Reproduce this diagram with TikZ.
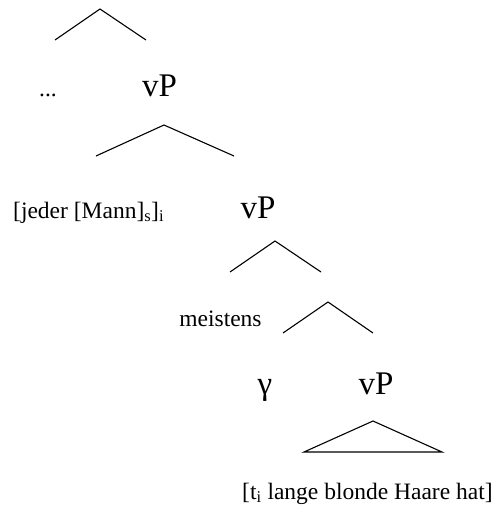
\documentclass[tikz,border=0pt]{standalone}
\usepackage{fontspec}
\setmainfont{Liberation Serif}
\begin{document}
\begin{tikzpicture}[x=1pt,y=-1pt,
  small/.style={inner sep=0pt,anchor=base,font=\fontsize{23.5}{28}\selectfont},
  big/.style={inner sep=0pt,anchor=base,font=\fontsize{33}{38}\selectfont},
  branch/.style={line width=1.1pt,line join=miter}]
\useasboundingbox (0,0) rectangle (494,508);
% texts
\node[small] (dots) at (48,97) {...};
\node[big] (vp1) at (159.5,97) {vP};
\node[small,anchor=base west] (jeder) at (13,218) {[jeder [Mann]\textsubscript{s}]\textsubscript{i}};
\node[big] (vp2) at (258,218) {vP};
\node[small] (meistens) at (220.5,326) {meistens};
\node[big] (gamma) at (265,394) {γ};
\node[big] (vp3) at (376,394) {vP};
\node[small,anchor=base west] (bottom) at (242,499) {[t\textsubscript{i} lange blonde Haare hat]};
% branch points
\coordinate (a1) at (100,9);  \coordinate (l1) at (55,40);  \coordinate (r1) at (146,40);
\coordinate (a2) at (164,125); \coordinate (l2) at (96,156); \coordinate (r2) at (234,156);
\coordinate (a3) at (275,241); \coordinate (l3) at (230,272); \coordinate (r3) at (321,272);
\coordinate (a4) at (328,302); \coordinate (l4) at (283,333); \coordinate (r4) at (373,333);
\coordinate (a5) at (373,421); \coordinate (l5) at (304,452); \coordinate (r5) at (442,452);
\draw[branch] (l1) -- (a1) -- (r1);
\draw[branch] (l2) -- (a2) -- (r2);
\draw[branch] (l3) -- (a3) -- (r3);
\draw[branch] (l4) -- (a4) -- (r4);
\draw[branch] (l5) -- (a5) -- (r5) -- cycle;
\end{tikzpicture}
\end{document}
